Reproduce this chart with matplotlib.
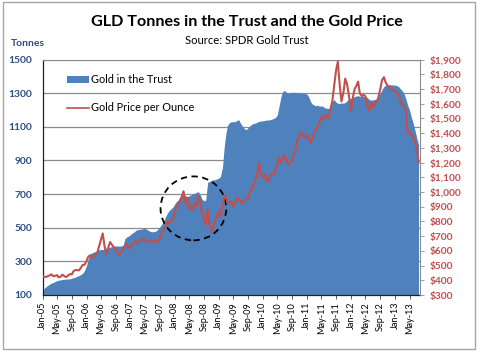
import matplotlib
matplotlib.use("Agg")
import matplotlib.pyplot as plt
import matplotlib.dates as mdates
from matplotlib.patches import Ellipse, Patch, Rectangle
from matplotlib.lines import Line2D
import pandas as pd

plt.rcParams["font.family"] = ["Lato", "DejaVu Sans"]

# GLD tonnes held, read twice a month (1st and 15th), Jan 2005 - Jul 2013
tonnes = [
    120, 140, 150, 158, 165, 170, 175, 180, 185, 188, 190, 192,
    193, 195, 195, 196, 200, 203, 207, 212, 215, 222, 230, 245,
    275, 315, 345, 350, 355, 358, 362, 368, 372, 370, 375, 378,
    382, 385, 388, 390, 392, 392, 390, 392, 395, 435, 445, 450,
    460, 468, 475, 485, 488, 490, 492, 495, 497, 490, 482, 478,
    475, 478, 480, 492, 505, 520, 535, 560, 585, 600, 612, 620,
    640, 655, 665, 680, 690, 695, 690, 685, 690, 695, 700, 705,
    710, 715, 695, 670, 660, 665, 770, 775, 780, 785, 785, 790,
    795, 805, 860, 980, 1060, 1110, 1125, 1130, 1130, 1130, 1138, 1142,
    1120, 1105, 1090, 1082, 1095, 1105, 1115, 1120, 1122, 1128, 1132, 1135,
    1135, 1138, 1140, 1140, 1142, 1145, 1150, 1155, 1170, 1220, 1280, 1310,
    1315, 1305, 1300, 1302, 1305, 1305, 1302, 1305, 1300, 1300, 1300, 1298,
    1295, 1280, 1250, 1235, 1230, 1225, 1228, 1222, 1225, 1220, 1212, 1210,
    1208, 1215, 1250, 1262, 1245, 1240, 1238, 1242, 1240, 1245, 1255, 1265,
    1270, 1272, 1280, 1282, 1285, 1280, 1280, 1282, 1278, 1275, 1262, 1258,
    1260, 1262, 1265, 1275, 1300, 1320, 1340, 1345, 1348, 1350, 1350, 1348,
    1348, 1345, 1338, 1325, 1315, 1300, 1265, 1230, 1200, 1160, 1120, 1080,
    1030, 995,
]

# gold price per ounce (USD), same dates
price = [
    429, 424, 423, 428, 433, 440, 428, 430, 435, 420, 425, 438,
    428, 422, 432, 442, 440, 462, 470, 468, 468, 485, 505, 505,
    530, 560, 570, 553, 560, 575, 590, 630, 675, 718, 625, 575,
    625, 660, 640, 625, 610, 585, 575, 590, 615, 635, 645, 615,
    625, 640, 655, 668, 650, 660, 678, 685, 670, 662, 655, 675,
    665, 668, 670, 660, 685, 720, 740, 765, 800, 790, 800, 808,
    860, 890, 915, 940, 970, 1005, 920, 960, 885, 900, 880, 930,
    900, 975, 925, 860, 820, 775, 880, 790, 730, 750, 800, 830,
    870, 830, 900, 960, 975, 920, 930, 935, 900, 925, 960, 950,
    935, 920, 945, 950, 960, 1005, 1010, 1050, 1080, 1130, 1200, 1110,
    1100, 1120, 1080, 1070, 1110, 1125, 1120, 1150, 1180, 1235, 1200, 1230,
    1250, 1215, 1185, 1195, 1225, 1255, 1290, 1350, 1380, 1405, 1380, 1370,
    1390, 1370, 1330, 1360, 1395, 1420, 1440, 1470, 1510, 1495, 1525, 1515,
    1500, 1560, 1620, 1720, 1830, 1885, 1720, 1615, 1680, 1770, 1730, 1660,
    1550, 1630, 1700, 1720, 1750, 1670, 1650, 1660, 1650, 1590, 1550, 1610,
    1575, 1590, 1610, 1640, 1700, 1760, 1780, 1745, 1720, 1710, 1700, 1685,
    1690, 1680, 1660, 1610, 1595, 1585, 1555, 1400, 1410, 1390, 1375, 1340,
    1290, 1200,
]

dates = pd.date_range("2005-01-01", periods=len(tonnes), freq="SMS")

left_ticks = [100, 300, 500, 700, 900, 1100, 1300, 1500]
right_ticks = list(range(300, 2000, 100))

blue = "#4F81BD"
red = "#C0504D"
navy = "#2C4D86"
grid_gray = "#8C8C8C"

fig = plt.figure(figsize=(4.8, 3.54), dpi=100)
fig.patches.append(Rectangle((3 / 480, 1 - 349 / 354), 472 / 480, 347 / 354,
                             transform=fig.transFigure, fill=False,
                             edgecolor="#A6A6A6", linewidth=1.0))

ax = fig.add_axes([42.5 / 480, 1 - 295 / 354, (420 - 42.5) / 480, (295 - 59.5) / 354])
ax.fill_between(dates, 100, tonnes, color=blue, linewidth=0, zorder=1)
ax.set_ylim(100, 1500)
ax.set_xlim(pd.Timestamp("2005-01-01"), pd.Timestamp("2013-07-27"))
ax.set_yticks(left_ticks)
ax.set_yticklabels([str(v) for v in left_ticks], color=navy, fontweight="bold", fontsize=7.4)
ax.tick_params(axis="y", length=0, pad=7.5)
ax.set_axisbelow(True)
ax.grid(axis="y", color=grid_gray, linewidth=0.9)

ax.xaxis.set_major_locator(mdates.MonthLocator(bymonth=[1, 5, 9]))
ax.xaxis.set_major_formatter(mdates.DateFormatter("%b-%y"))
ax.tick_params(axis="x", length=3, width=0.6, color="#404040", pad=2, labelsize=6.6,
               labelrotation=90)

for side in ["left", "bottom"]:
    ax.spines[side].set_color("#222222")
    ax.spines[side].set_linewidth(0.9)
ax.spines["top"].set_color(grid_gray)
ax.spines["right"].set_visible(False)

ax2 = ax.twinx()
ax2.plot(dates, price, color=red, linewidth=1.5, zorder=3)
ax2.set_ylim(300, 1900)
ax2.set_yticks(right_ticks)
ax2.set_yticklabels([f"${v:,}" for v in right_ticks], color=red, fontweight="bold", fontsize=7.3)
ax2.tick_params(axis="y", length=3, width=0.6, color=grid_gray, pad=4)
ax2.spines["right"].set_color(grid_gray)
for side in ["left", "top", "bottom"]:
    ax2.spines[side].set_visible(False)

# dashed circle highlighting 2008
cx = mdates.date2num(pd.Timestamp("2008-06-05"))
ax.add_patch(Ellipse((cx, 615), 545, 380, fill=False, edgecolor="black",
                     linestyle=(0, (3.5, 2.5)), linewidth=1.3, zorder=5))

handles = [Patch(facecolor=blue, edgecolor="none"),
           Line2D([], [], color=red, linewidth=1.2)]
ax.legend(handles, ["Gold in the Trust", "Gold Price per Ounce"], loc="upper left",
          bbox_to_anchor=(0.04, 0.978), frameon=False, fontsize=7.8,
          handlelength=2.0, handleheight=0.6, handletextpad=0.15, labelspacing=1.57)

fig.text(247 / 480, 1 - 22 / 354, "GLD Tonnes in the Trust and the Gold Price",
         ha="center", va="center", fontsize=11.6, fontweight="bold")
fig.text(247 / 480, 1 - 41 / 354, "Source: SPDR Gold Trust",
         ha="center", va="center", fontsize=8.1)
fig.text(11 / 480, 1 - 44 / 354, "Tonnes", ha="left", va="center",
         fontsize=7.5, fontweight="bold", color=navy)

fig.savefig("out.png", dpi=100)
